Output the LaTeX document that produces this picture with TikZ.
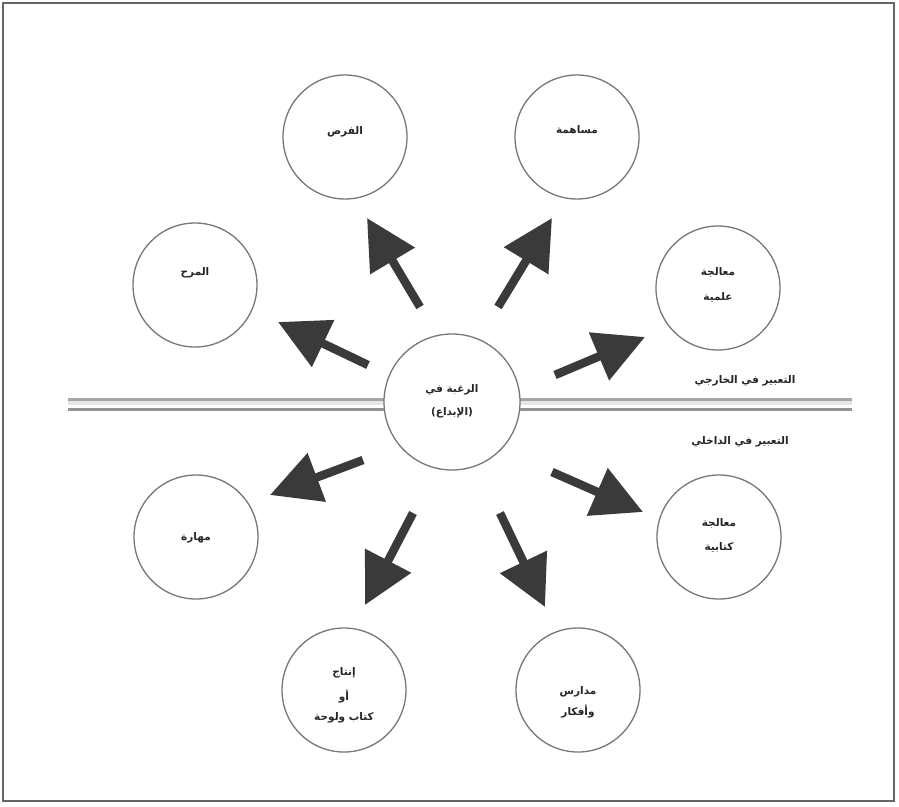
\documentclass[tikz,border=0pt]{standalone}
\usepackage{fontspec}
\usetikzlibrary{arrows.meta}
\TeXXeTstate=1
\newfontfamily\arabicfont[Script=Arabic]{DejaVu Sans}
\newcommand{\ar}[1]{\beginR #1\endR}

\definecolor{arrowgray}{HTML}{3A3A3A}
\definecolor{ringgray}{HTML}{777777}

\tikzset{
  bubble/.style={circle, draw=ringgray, line width=1.3pt, fill=white,
    minimum size=124pt, inner sep=0pt},
  hub/.style={circle, draw=ringgray, line width=1.3pt, fill=white,
    minimum size=136pt, inner sep=0pt},
  caption/.style={font=\arabicfont\bfseries\fontsize{10.5}{12}\selectfont,
    align=center, inner sep=0pt, text=black!85},
  bigarrow/.style={draw=arrowgray, line width=8.5pt,
    -{Triangle[length=50pt, width=50pt, fill=arrowgray]}},
  rail/.style={line width=3pt, draw=gray!70},
}

\begin{document}
\begin{tikzpicture}[x=1pt, y=-1pt]
  \useasboundingbox (0,0) rectangle (899,806);

  % outer frame
  \draw[draw=gray!80!black, line width=2.5pt] (3,3) rectangle (894,801);

  % dividing double rail
  \coordinate (railL) at (68,0);
  \coordinate (railR) at (852,0);
  \draw[line width=4pt, draw=gray!20] (railL |- 0,403) -- (railR |- 0,403);
  \draw[rail] (railL |- 0,399) -- (railR |- 0,399);
  \draw[rail, draw=gray!85] (railL |- 0,409) -- (railR |- 0,409);

  % central circle
  \node[hub] (hub) at (452,402) {};
  \node[caption] at (452,390) {\ar{الرغبة في}};
  \node[caption] at (452,413) {\ar{(الإبداع)}};

  % surrounding circles
  \node[bubble] (tl) at (345,137) {};
  \node[bubble] (tr) at (577,137) {};
  \node[bubble] (lu) at (195,285) {};
  \node[bubble] (ru) at (718,288) {};
  \node[bubble] (ll) at (196,537) {};
  \node[bubble] (rl) at (719,537) {};
  \node[bubble] (bl) at (344,690) {};
  \node[bubble] (br) at (578,690) {};

  \node[caption] at (345,132) {\ar{الفرص}};
  \node[caption] at (577,130) {\ar{مساهمة}};
  \node[caption] at (195,273) {\ar{المرح}};
  \node[caption] at (718,272) {\ar{معالجة}};
  \node[caption] at (718,297) {\ar{علمية}};
  \node[caption] at (196,538) {\ar{مهارة}};
  \node[caption] at (719,523) {\ar{معالجة}};
  \node[caption] at (719,547) {\ar{كتابية}};
  \node[caption] at (344,673) {\ar{إنتاج}};
  \node[caption] at (344,697) {\ar{أو}};
  \node[caption] at (344,718) {\ar{كتاب ولوحة}};
  \node[caption] at (578,692) {\ar{مدارس}};
  \node[caption] at (578,712) {\ar{وأفكار}};

  % side labels of the two halves
  \node[caption] (outer) at (745,381) {\ar{التعبير في الخارجي}};
  \node[caption] (inner) at (740,442) {\ar{التعبير في الداخلي}};

  % arrow ends
  \coordinate (s1) at (420,307); \coordinate (e1) at (367,218);
  \coordinate (s2) at (498,307); \coordinate (e2) at (552,218);
  \coordinate (s3) at (368,365); \coordinate (e3) at (278,322);
  \coordinate (s4) at (555,375); \coordinate (e4) at (645,337);
  \coordinate (s5) at (363,460); \coordinate (e5) at (270,495);
  \coordinate (s6) at (552,472); \coordinate (e6) at (643,512);
  \coordinate (s7) at (413,513); \coordinate (e7) at (365,605);
  \coordinate (s8) at (500,513); \coordinate (e8) at (545,607);

  \foreach \i in {1,...,8} {
    \draw[bigarrow] (s\i) -- (e\i);
  }
\end{tikzpicture}
\end{document}
